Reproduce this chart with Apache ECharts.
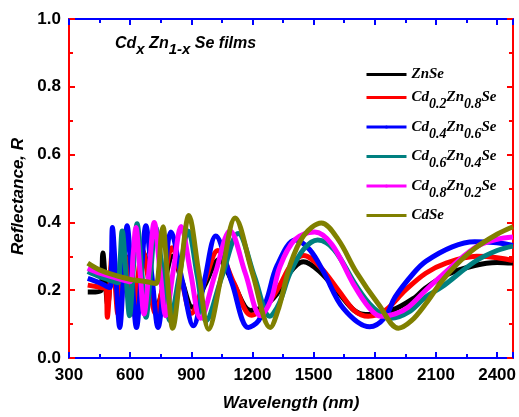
<!DOCTYPE html>
<html><head><meta charset="utf-8">
<script src="https://cdn.jsdelivr.net/npm/echarts/dist/echarts.min.js"></script>
<style>html,body{margin:0;padding:0;background:#fff}#c{width:519px;height:417px}</style>
</head><body><div id="c"></div>
<script>
// ---- data (wavelength nm, reflectance) ----
const seriesNames = ['ZnSe','Cd0.2Zn0.8Se','Cd0.4Zn0.6Se','Cd0.6Zn0.4Se','Cd0.8Zn0.2Se','CdSe'];
const legendLabels = [
  '{n|ZnSe}',
  '{n|Cd}{s|0.2}{n|Zn}{s|0.8}{n|Se}',
  '{n|Cd}{s|0.4}{n|Zn}{s|0.6}{n|Se}',
  '{n|Cd}{s|0.6}{n|Zn}{s|0.4}{n|Se}',
  '{n|Cd}{s|0.8}{n|Zn}{s|0.2}{n|Se}',
  '{n|CdSe}{s|\u00a0}'
];
const colors = ['#000000','#ff0000','#0000ff','#008080','#ff00ff','#808000'];

const znSe = [[392,0.195],[430,0.195],[458,0.2],[462,0.25],[466,0.31],[478,0.23],[490,0.155],[502,0.23],[515,0.3],[530,0.225],[545,0.15],[561,0.225],[578,0.3],[597,0.225],[617,0.15],[640,0.225],[665,0.31],[697,0.23],[730,0.15],[768,0.225],[808,0.3],[855,0.225],[905,0.15],[970,0.22],[1035,0.29],[1110,0.215],[1190,0.14],[1250,0.15],[1321,0.19],[1380,0.25],[1450,0.284],[1530,0.255],[1626,0.19],[1700,0.14],[1756,0.128],[1880,0.14],[2000,0.18],[2046,0.205],[2150,0.245],[2290,0.273],[2400,0.282],[2478,0.28]];

const cd02 = [[392,0.215],[440,0.21],[478,0.205],[484,0.2],[488,0.12],[500,0.21],[512,0.31],[526,0.22],[540,0.13],[556,0.22],[572,0.31],[591,0.22],[610,0.13],[635,0.225],[660,0.32],[692,0.225],[725,0.13],[765,0.225],[805,0.325],[852,0.23],[900,0.132],[965,0.225],[1030,0.317],[1110,0.22],[1195,0.126],[1260,0.15],[1330,0.21],[1390,0.275],[1450,0.302],[1530,0.27],[1626,0.196],[1700,0.14],[1768,0.123],[1850,0.14],[1950,0.2],[2050,0.25],[2150,0.28],[2300,0.3],[2400,0.296],[2478,0.287]];

const cd04 = [[392,0.235],[450,0.222],[500,0.208],[507,0.24],[513,0.385],[530,0.24],[549,0.09],[567,0.24],[585,0.39],[608,0.24],[631,0.09],[654,0.24],[677,0.39],[707,0.24],[737,0.09],[767,0.23],[800,0.372],[855,0.23],[910,0.095],[965,0.23],[1020,0.36],[1100,0.22],[1180,0.09],[1230,0.11],[1272,0.176],[1321,0.273],[1410,0.348],[1480,0.32],[1548,0.255],[1645,0.147],[1775,0.092],[1850,0.12],[1900,0.18],[1990,0.25],[2050,0.285],[2180,0.328],[2290,0.343],[2400,0.34],[2478,0.332]];

const cd06 = [[392,0.255],[450,0.24],[500,0.23],[540,0.222],[550,0.28],[561,0.375],[579,0.25],[597,0.125],[615,0.26],[634,0.396],[656,0.26],[678,0.12],[700,0.25],[725,0.385],[760,0.25],[795,0.11],[840,0.24],[885,0.375],[930,0.24],[972,0.11],[1050,0.24],[1130,0.367],[1210,0.24],[1285,0.123],[1330,0.16],[1384,0.25],[1450,0.32],[1520,0.348],[1600,0.32],[1708,0.214],[1790,0.15],[1880,0.117],[1965,0.135],[2050,0.18],[2130,0.21],[2290,0.284],[2400,0.317],[2478,0.33]];

const cd08 = [[392,0.265],[450,0.25],[520,0.238],[600,0.225],[614,0.3],[628,0.385],[648,0.26],[668,0.13],[693,0.26],[718,0.4],[746,0.26],[775,0.125],[812,0.26],[850,0.388],[897,0.25],[945,0.117],[1018,0.25],[1090,0.375],[1165,0.25],[1240,0.125],[1290,0.17],[1335,0.27],[1410,0.35],[1505,0.372],[1590,0.335],[1693,0.22],[1770,0.15],[1830,0.123],[1900,0.13],[1964,0.15],[2050,0.2],[2128,0.243],[2290,0.325],[2400,0.35],[2478,0.357]];

const cdSe = [[392,0.28],[450,0.26],[520,0.245],[600,0.232],[680,0.225],[725,0.22],[740,0.26],[752,0.36],[762,0.387],[772,0.33],[790,0.18],[808,0.088],[848,0.26],[888,0.42],[937,0.25],[985,0.085],[1050,0.25],[1115,0.413],[1200,0.25],[1287,0.09],[1330,0.15],[1384,0.273],[1450,0.36],[1538,0.398],[1620,0.35],[1708,0.255],[1820,0.157],[1916,0.088],[1980,0.11],[2050,0.16],[2128,0.226],[2200,0.275],[2290,0.323],[2400,0.365],[2478,0.387]];

const allData = [znSe, cd02, cd04, cd06, cd08, cdSe];
const xMin = 300, xMax = 2478, xStep = 300;
const yMin = 0, yMax = 1, yStep = 0.2;

// ---- chart ----
const chart = echarts.init(document.getElementById('c'), null, {renderer: 'canvas'});
const sans = 'Arial, "Liberation Sans", sans-serif';
const serif = '"Liberation Serif", "Times New Roman", serif';
function axisBase(color) {
  return {
    type: 'value',
    axisLine: {show: true, onZero: false, lineStyle: {color: color, width: 2}},
    axisTick: {show: true, inside: true, length: 6, lineStyle: {color: color, width: 2}},
    minorTick: {show: true, splitNumber: 2, length: 4, lineStyle: {color: color, width: 2}},
    splitLine: {show: false}
  };
}
const option = {
  animation: false,
  backgroundColor: '#ffffff',
  grid: {left: 69, right: 1, top: 19, bottom: 57, containLabel: false},
  title: {
    text: '{b|Cd}{s|x}{b| Zn}{s|1-x}{b| Se films}',
    left: 115, top: 36, padding: 0,
    textStyle: {
      rich: {
        b: {fontFamily: sans, fontSize: 16, fontWeight: 'bold', fontStyle: 'italic', color: '#000', lineHeight: 16},
        s: {fontFamily: sans, fontSize: 15, fontWeight: 'bold', fontStyle: 'italic', color: '#000', lineHeight: 16, padding: [12, 0, 0, 0]}
      }
    }
  },
  legend: {
    orient: 'vertical', left: 365, top: 67, padding: 0,
    itemWidth: 40, itemHeight: 4, itemGap: 1.5,
    data: seriesNames,
    lineStyle: {width: 3},
    formatter: function (name) { return legendLabels[seriesNames.indexOf(name)]; },
    textStyle: {
      rich: {
        n: {fontFamily: serif, fontSize: 15, fontWeight: 'bold', fontStyle: 'italic', color: '#000', lineHeight: 16},
        s: {fontFamily: serif, fontSize: 14, fontWeight: 'bold', fontStyle: 'italic', color: '#000', lineHeight: 16, padding: [14, 0, 0, 0]}
      }
    }
  },
  xAxis: [
    Object.assign(axisBase('#0000ff'), {
      position: 'bottom', min: xMin, max: xMax, interval: xStep,
      axisLabel: {show: true, showMaxLabel: false, margin: 9, color: '#000', fontFamily: sans, fontSize: 17, fontWeight: 'bold',
        formatter: function (v) { return String(Math.round(v)); }},
      name: 'Wavelength (nm)', nameLocation: 'middle', nameGap: 37,
      nameTextStyle: {fontFamily: sans, fontSize: 17, fontWeight: 'bold', fontStyle: 'italic', color: '#000'}
    }),
    Object.assign(axisBase('#0000ff'), {
      position: 'top', min: xMin, max: xMax, interval: xStep,
      axisLabel: {show: false}
    })
  ],
  yAxis: [
    Object.assign(axisBase('#ff0000'), {
      position: 'left', min: yMin, max: yMax, interval: yStep,
      axisLabel: {show: true, margin: 8, color: '#000', fontFamily: sans, fontSize: 17, fontWeight: 'bold',
        formatter: function (v) { return v.toFixed(1); }},
      name: 'Reflectance, R', nameLocation: 'middle', nameGap: 42,
      nameTextStyle: {fontFamily: sans, fontSize: 17, fontWeight: 'bold', fontStyle: 'italic', color: '#000', padding: [0, 16, 0, 0]}
    }),
    Object.assign(axisBase('#ff0000'), {
      position: 'right', min: yMin, max: yMax, interval: yStep,
      axisLabel: {show: false}
    })
  ],
  series: seriesNames.map(function (name, i) {
    return {
      name: name, type: 'line', xAxisIndex: 0, yAxisIndex: 0,
      data: allData[i],
      smooth: 0.35,
      symbol: 'circle', symbolSize: 3, showSymbol: false,
      color: colors[i],
      lineStyle: {color: colors[i], width: 5},
      z: 2 + i
    };
  })
};
chart.setOption(option);
</script>
</body></html>
